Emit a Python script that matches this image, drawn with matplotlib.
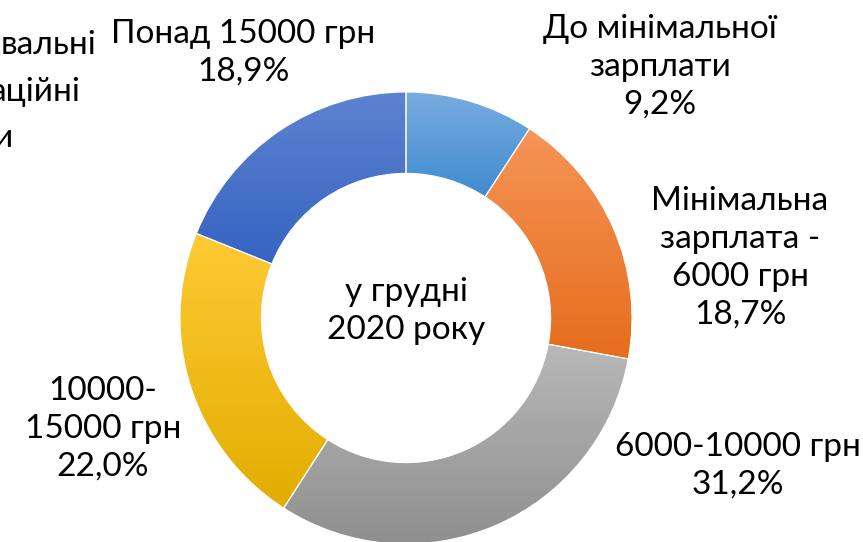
import numpy as np
import matplotlib.pyplot as plt
from matplotlib.colors import LinearSegmentedColormap

# --- DATI ---
categories = ["До мінімальної\nзарплати", "Мінімальна\nзарплата -\n6000 грн",
              "6000-10000 грн", "10000-\n15000 грн", "Понад 15000 грн"]
shares = [9.2, 18.7, 31.2, 22.0, 18.9]
center_label = "у грудні\n2020 року"
cut_label = ["вальні", "аційні", "и"]

# colori (alto, basso) per il gradiente verticale di ogni fetta
grad_colors = [("#79acdf", "#3f8bd0"), ("#f59558", "#e66d1c"),
               ("#b8b8b8", "#8f8f8f"), ("#ffca35", "#e2ad00"),
               ("#5e82d0", "#3564c2")]
# posizioni delle etichette in pixel (x, y dall'alto)
label_pos = [(660, 67), (740, 258), (738, 466), (103, 429), (243, 53)]
cut_pos = [(96, 45), (81, 92), (13, 138)]

W, H = 863, 542
cx, cy, R, width = 406, 318, 226, 0.36 * 226
FS, LS = 24, 1.33

plt.rcParams['font.family'] = ['Lato', 'DejaVu Sans']
fig = plt.figure(figsize=(W / 100, H / 100), dpi=100)
ax = fig.add_axes([0, 0, 1, 1])

wedges, _ = ax.pie(shares, center=(cx, H - cy), radius=R, startangle=90,
                   counterclock=False, frame=True,
                   wedgeprops=dict(width=width, linewidth=0.8, edgecolor='white'))
ax.set_xlim(0, W)
ax.set_ylim(0, H)
ax.set_aspect('equal')
ax.axis('off')

# gradiente verticale dentro ogni fetta
grad = np.linspace(1, 0, 256).reshape(-1, 1)
for w, (c_top, c_bot) in zip(wedges, grad_colors):
    ext = w.get_path().get_extents()
    cmap = LinearSegmentedColormap.from_list("g", [c_bot, c_top])
    w.set_facecolor('none')
    im = ax.imshow(grad, cmap=cmap, extent=[ext.x0, ext.x1, ext.y0, ext.y1],
                   origin='upper', aspect='auto', zorder=1)
    im.set_clip_path(w)
    w.set_zorder(2)

for (x, y), cat, v in zip(label_pos, categories, shares):
    txt = f"{cat}\n{v:.1f}%".replace('.', ',')
    ax.text(x, H - y, txt, ha='center', va='center', fontsize=FS,
            linespacing=LS, color='black')

ax.text(cx, H - 311, center_label, ha='center', va='center', fontsize=FS,
        linespacing=LS, color='black')

# etichetta tagliata dal bordo sinistro
for (x, y), frag in zip(cut_pos, cut_label):
    ax.text(x, H - y, frag, ha='right', va='center', fontsize=FS, color='black')

fig.savefig("out.png", dpi=100)
